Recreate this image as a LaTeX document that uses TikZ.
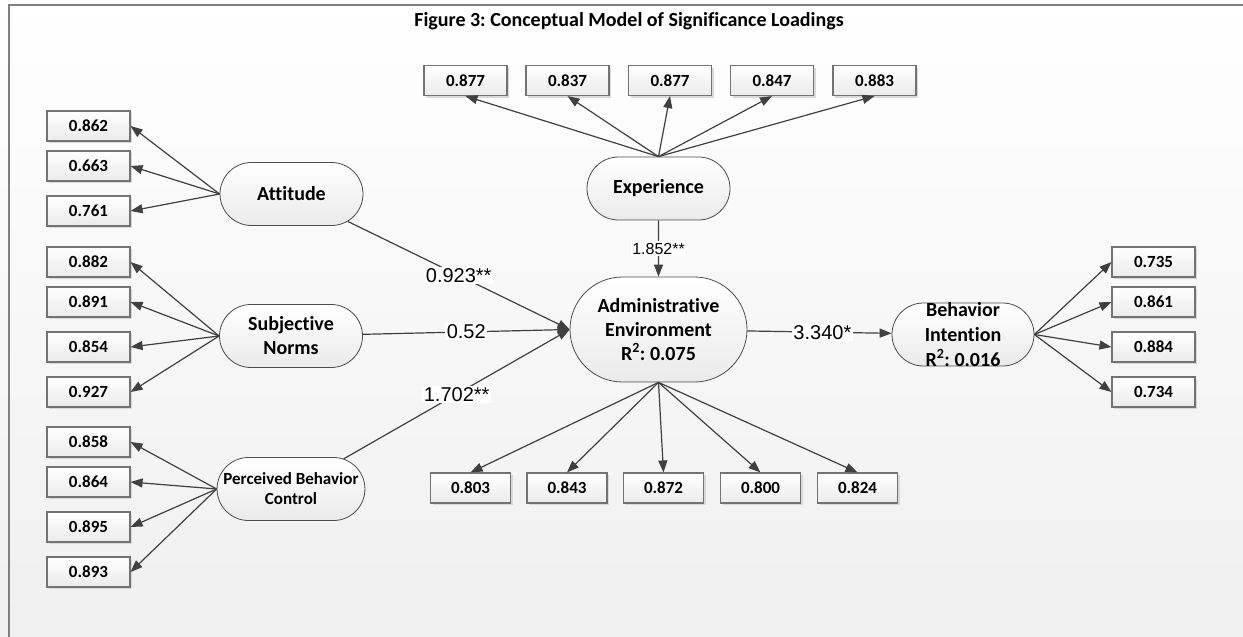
\documentclass[tikz,border=0pt]{standalone}
\usepackage{fontspec}
\setmainfont{Carlito}[Ligatures=NoCommon]
\newfontfamily\arialf{Liberation Sans}
\usetikzlibrary{shapes.misc,arrows.meta,shadows}
\frenchspacing
\begin{document}
\begin{tikzpicture}[x=1pt,y=-1pt,
  ind/.style={draw=black!55, line width=1.1pt, top color=white, bottom color=black!8,
    minimum width=83pt, minimum height=30pt, inner sep=0pt,
    font=\bfseries\fontsize{17}{19}\selectfont,
    drop shadow={shadow xshift=2pt, shadow yshift=-2pt, fill=black!15, opacity=1}},
  indb/.style={ind, minimum width=80pt},
  lat/.style={rounded rectangle, draw=black!70, line width=0.8pt, top color=white, bottom color=black!8,
    minimum width=147pt, minimum height=63pt, inner sep=2pt, align=center,
    font=\bfseries\fontsize{20}{24}\selectfont},
  arr/.style={draw=black!75, line width=1.2pt, -{Triangle[length=12pt,width=9pt]}},
  lbl/.style={fill=white, inner sep=1.5pt, font=\arialf\fontsize{20}{22}\selectfont},
  lbls/.style={fill=white, inner sep=1.5pt, font=\arialf\fontsize{16}{18}\selectfont}
]
\useasboundingbox (0,0) rectangle (1243,637);
\shade[top color=white, bottom color=black!6] (0,0) rectangle (1243,637);
\draw[black!50, line width=1.5pt] (9,637) -- (9,5) -- (1243,5);

\node[font=\bfseries\fontsize{20}{23}\selectfont] (title) at (629,21) {Figure 3: Conceptual Model of Significance Loadings};

% latent variables
\node[lat] (att) at (291.5,194) {Attitude};
\node[lat] (sn) at (291,336) {Subjective\\Norms};
\node[lat, font=\bfseries\fontsize{17}{20}\selectfont] (pbc) at (291,489) {Perceived Behavior\\Control};
\node[lat] (exp) at (658.5,188.5) {Experience};
\node[lat, minimum width=181pt, minimum height=105pt] (adm) at (658.5,329.5) {Administrative\\Environment\\R\textsuperscript{2}: 0.075};
\node[lat, minimum width=146pt] (bi) at (963,334.5) {};
\node[align=center, inner sep=0pt, font=\bfseries\fontsize{20}{25}\selectfont] (bitext) at (963,334.5) {Behavior\\Intention\\R\textsuperscript{2}: 0.016};

% left indicators
\node[ind] (a1) at (88.5,126) {0.862};
\node[ind] (a2) at (88.5,166) {0.663};
\node[ind] (a3) at (88.5,211) {0.761};
\node[ind] (s1) at (88.5,262) {0.882};
\node[ind] (s2) at (88.5,302) {0.891};
\node[ind] (s3) at (88.5,347) {0.854};
\node[ind] (s4) at (88.5,392) {0.927};
\node[ind] (p1) at (88.5,442) {0.858};
\node[ind] (p2) at (88.5,482) {0.864};
\node[ind] (p3) at (88.5,527) {0.895};
\node[ind] (p4) at (88.5,572) {0.893};

% top indicators
\node[ind] (e1) at (465.5,80.5) {0.877};
\node[ind] (e2) at (567.5,80.5) {0.837};
\node[ind] (e3) at (670,80.5) {0.877};
\node[ind] (e4) at (772,80.5) {0.847};
\node[ind] (e5) at (874.5,80.5) {0.883};

% bottom indicators
\node[indb] (d1) at (470.5,488) {0.803};
\node[indb] (d2) at (567,488) {0.843};
\node[indb] (d3) at (663.5,488) {0.872};
\node[indb] (d4) at (760.5,488) {0.800};
\node[indb] (d5) at (857.5,488) {0.824};

% right indicators
\node[ind] (b1) at (1153.5,262) {0.735};
\node[ind] (b2) at (1153.5,302) {0.861};
\node[ind] (b3) at (1153.5,347) {0.884};
\node[ind] (b4) at (1153.5,392) {0.734};

% loadings
\foreach \t in {a1,a2,a3} \draw[arr] (att.west) -- (\t.east);
\foreach \t in {s1,s2,s3,s4} \draw[arr] (sn.west) -- (\t.east);
\foreach \t in {p1,p2,p3,p4} \draw[arr] (pbc.west) -- (\t.east);
\foreach \t in {e1,e2,e3,e4,e5} \draw[arr] (exp.north) -- (\t.south);
\foreach \t in {d1,d2,d3,d4,d5} \draw[arr] (adm.south) -- (\t.north);
\foreach \t in {b1,b2,b3,b4} \draw[arr] (bi.east) -- (\t.west);

% structural paths
\draw[arr] (att) -- node[lbl, pos=0.5] {0.923**} (adm.west);
\draw[arr] (sn) -- node[lbl, pos=0.5] {0.52} (adm.west);
\draw[arr] (pbc) -- node[lbl, pos=0.5] {1.702**} (adm.west);
\draw[arr] (exp) -- node[lbls, pos=0.5] {1.852**} (adm);
\draw[arr] (adm) -- node[lbl, pos=0.52] {3.340*} (bi);
\end{tikzpicture}
\end{document}
